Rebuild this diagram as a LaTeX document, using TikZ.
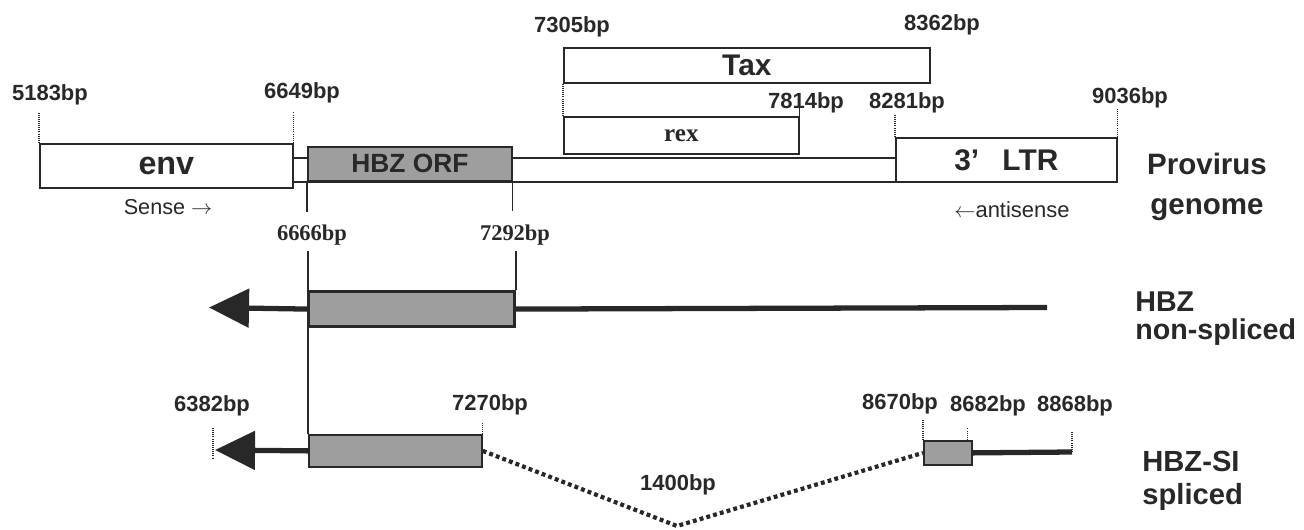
\documentclass[tikz,border=0pt]{standalone}
\usepackage{fontspec}
\setmainfont{Liberation Sans}
\newfontfamily\timesfont{Liberation Serif}
\usetikzlibrary{arrows.meta}
\definecolor{ink}{RGB}{40,40,40}
\definecolor{orfgray}{RGB}{158,158,158}

\begin{document}
\begin{tikzpicture}[
  x=0.02cm, y=-0.02cm,
  text=ink,
  region/.style={draw=ink, line width=1pt, inner sep=0pt, anchor=north west},
  orfbox/.style={region, fill=orfgray},
  bp/.style={font=\fontsize{12.5}{14}\selectfont\bfseries},
  bpserif/.style={font=\fontsize{12.8}{14}\selectfont\timesfont\bfseries},
  tickdot/.style={draw=ink, line width=0.7pt, dash pattern=on 0.6pt off 0.6pt},
  tickline/.style={draw=ink, line width=0.8pt},
  strand/.style={draw=ink, line width=3pt},
  arrowhead/.style={-{Triangle[length=0.8cm, width=0.76cm]}},
  splice/.style={draw=ink, line width=2.4pt, dash pattern=on 2.2pt off 1.8pt},
  rowlabel/.style={align=left, anchor=west, inner sep=0pt}
]
\path[use as bounding box] (0,0) rectangle (1304,530);

% Provirus genome
\node[region, minimum width=12.06cm, minimum height=0.48cm] (backbone) at (292,157.5) {};
\node[region, minimum width=5.06cm, minimum height=0.88cm, font=\fontsize{18.4}{20}\selectfont\bfseries] (env) at (39,143) {env};
\node[orfbox, minimum width=4.08cm, minimum height=0.68cm, font=\fontsize{15}{17}\selectfont\bfseries] (orf) at (307,146) {HBZ ORF};
\node[region, minimum width=4.42cm, minimum height=0.88cm, font=\fontsize{17}{19}\selectfont\bfseries] (ltr) at (895,137) {3’\enspace\ LTR};
\node[region, minimum width=7.32cm, minimum height=0.70cm, font=\fontsize{17}{19}\selectfont\bfseries] (tax) at (563,47) {Tax};
\node[region, minimum width=4.70cm, minimum height=0.73cm, font=\fontsize{14.3}{16}\selectfont\timesfont\bfseries] (rex) at (563,116.5) {rex};

\node[bp] (l5183) at (50,95) {5183bp};
\node[bp] (l6649) at (302,93) {6649bp};
\node[bp] (l7305) at (572,27) {7305bp};
\node[bp] (l8362) at (942,25) {8362bp};
\node[bp] (l7814) at (806,103) {7814bp};
\node[bp] (l8281) at (907,103) {8281bp};
\node[bp] (l9036) at (1130,98) {9036bp};

\draw[tickdot] (env.north west) -- ++(0,-30);
\draw[tickdot] (env.north east) -- ++(0,-31);
\draw[tickdot] (tax.south west) -- (rex.north west);
\draw[tickline] (rex.north east) -- ++(0,-20);
\draw[tickdot] (ltr.north west) -- ++(0,-22);
\draw[tickdot] (ltr.north east) -- ++(0,-28);

\node[font=\fontsize{12.3}{14}\selectfont] (sense) at (168,207) {Sense $\rightarrow$};
\node[font=\fontsize{12.5}{14}\selectfont] (antisense) at (1012,210) {$\leftarrow$antisense};
\node[align=center, font=\fontsize{16.8}{22.8}\selectfont\bfseries] (provirus) at (1207,187) {Provirus\\genome};

% HBZ non-spliced
\draw[tickline] (orf.south west) -- ++(0,30);
\draw[tickline] (orf.south east) -- ++(0,29);
\node[bpserif] (l6666) at (312,235) {6666bp};
\node[bpserif] (l7292) at (515,235) {7292bp};

\coordinate (hbztip) at (209,307.5);
\coordinate (hbzend) at (1047,307.5);
\node[orfbox, line width=1.8pt, minimum width=4.12cm, minimum height=0.70cm] (hbz) at (307,290) {};
\draw[strand] (hbz.east) -- (hbzend);
\draw[strand, arrowhead, fill=ink] (hbz.west) -- (hbztip);
\draw[tickline] (hbz.north east) -- ++(0,-39);
\node[rowlabel, font=\fontsize{16.3}{16}\selectfont\bfseries] (nonspliced) at (1135,319) {HBZ\\non-spliced};

% HBZ-SI spliced
\node[orfbox, minimum width=3.46cm, minimum height=0.64cm] (si1) at (308,434) {};
\node[orfbox, minimum width=0.96cm, minimum height=0.48cm] (si2) at (923,440) {};
\draw[tickline] (si1.north west) -- ++(0,-183);
\coordinate (sitip) at (215,450);
\coordinate (siend) at (1072,452);
\coordinate (vbottom) at (677,526);
\draw[strand, arrowhead, fill=ink] (si1.west) -- (sitip);
\draw[strand] (si2.east) -- (siend);
\draw[splice] (si1.east) -- (vbottom) -- (si2.west);

\node[bp] (l6382) at (212,406) {6382bp};
\node[bp] (l7270) at (490,405) {7270bp};
\node[bp] (l8670) at (900,404) {8670bp};
\node[bp] (l8682) at (988,406) {8682bp};
\node[bp] (l8868) at (1075,406) {8868bp};
\node[bp] (l1400) at (678,485) {1400bp};

\draw[tickdot] (sitip) ++(-2,-22) -- ++(0,30);
\draw[tickdot] (si1.north east) -- ++(0,-11);
\draw[tickdot] (si2.north west) -- ++(0,-20);
\draw[tickdot] (si2.north east) ++(-5,0) -- ++(0,-12);
\draw[tickdot] (siend) -- ++(0,-21);

\node[rowlabel, font=\fontsize{16.6}{19}\selectfont\bfseries] (spliced) at (1142,481) {HBZ-SI\\spliced};
\end{tikzpicture}
\end{document}
